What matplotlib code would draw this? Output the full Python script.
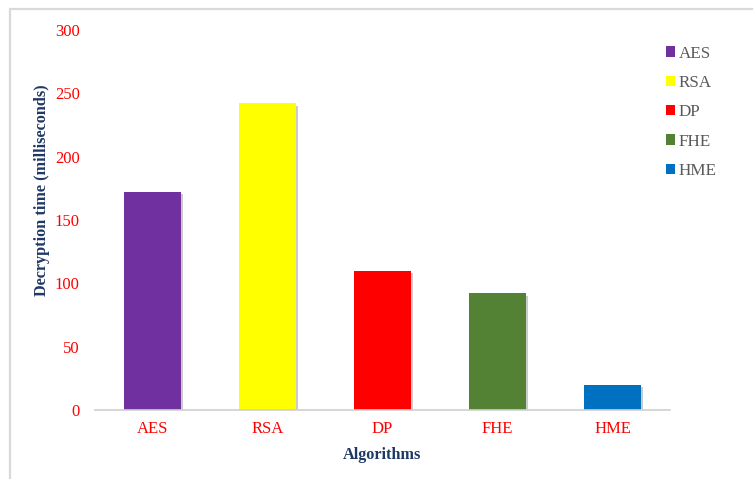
# Decryption time per algorithm - bar chart
import matplotlib
matplotlib.use('Agg')
import matplotlib.pyplot as plt
import matplotlib.patheffects as pe
from matplotlib.patches import Rectangle, Patch

algorithms = ['AES', 'RSA', 'DP', 'FHE', 'HME']
decrypt_ms = [172, 242, 110, 92, 20]
bar_colors = ['#7030A0', '#FFFF00', '#FF0000', '#548235', '#0070C0']
y_ticks = [0, 50, 100, 150, 200, 250, 300]

plt.rcParams['font.family'] = ['Liberation Serif', 'DejaVu Serif']

fig = plt.figure(figsize=(7.53, 4.79), dpi=100)
ax = fig.add_axes([0.1262, 0.144, 0.7636, 0.7933])

# frame around the chart area
fig.patches.append(Rectangle((10 / 753, -0.1), 1.2, 1 - 9 / 479 + 0.1,
                             transform=fig.transFigure, fill=False,
                             edgecolor='#d9d9d9', linewidth=1.6))

shadow = [pe.SimplePatchShadow(offset=(1.5, -1.5), shadow_rgbFace='#999999', alpha=0.5),
          pe.Normal()]
x = range(len(algorithms))
bars = ax.bar(x, decrypt_ms, width=0.5, color=bar_colors)
for b in bars:
    b.set_path_effects(shadow)

ax.set_xlim(-0.5, 4.5)
ax.set_ylim(0, 300)
ax.set_yticks(y_ticks)
ax.set_xticks(list(x))
ax.set_xticklabels(algorithms)
ax.tick_params(axis='both', length=0, labelsize=12, labelcolor='#FF0000')
ax.tick_params(axis='y', pad=11)
ax.tick_params(axis='x', pad=8)

for s in ['top', 'right', 'left']:
    ax.spines[s].set_visible(False)
ax.spines['bottom'].set_color('#d0d0d0')
ax.spines['bottom'].set_linewidth(1.2)

ax.set_ylabel('Decryption time (milliseconds)', fontsize=11.7, fontweight='bold',
              color='#1F3864')
ax.yaxis.set_label_coords(-0.079, 0.579)
ax.set_xlabel('Algorithms', fontsize=11.7, fontweight='bold', color='#1F3864')
ax.xaxis.set_label_coords(0.5, -0.098)

handles = [Patch(facecolor=c, edgecolor='none') for c in bar_colors]
leg = fig.legend(handles, algorithms, loc='upper left',
                 bbox_to_anchor=(0.864, 0.937), frameon=False,
                 fontsize=12.3, handlelength=0.55, handleheight=0.55,
                 handletextpad=0.2, labelspacing=0.78)
for t in leg.get_texts():
    t.set_color('#595959')

fig.savefig('out.png', dpi=100)
